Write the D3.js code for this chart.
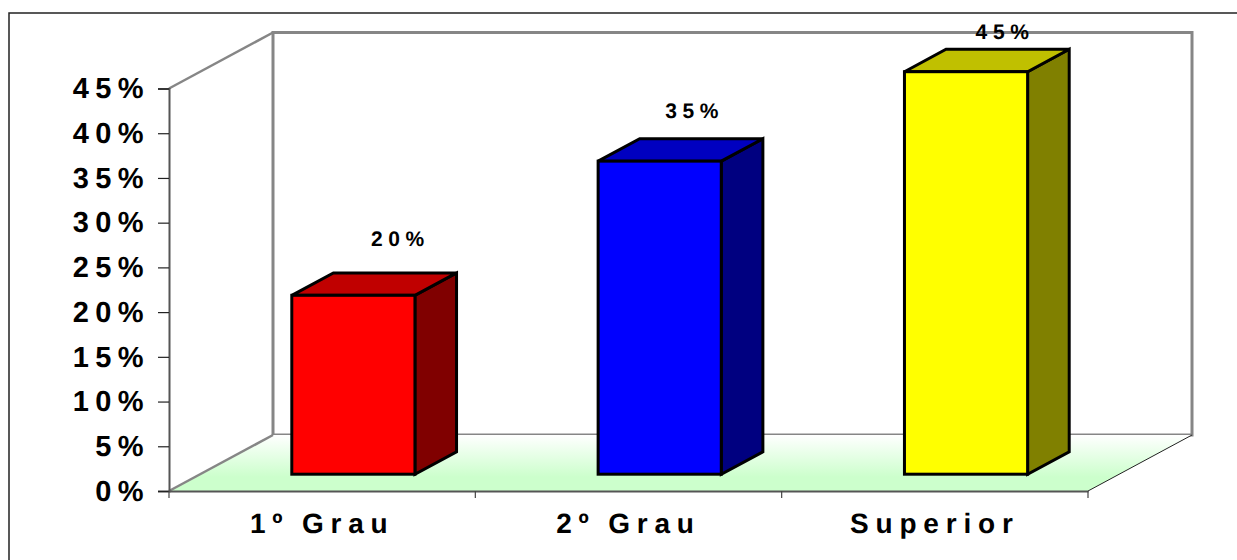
<!DOCTYPE html>
<html>
<head>
<meta charset="utf-8">
<script src="https://cdn.jsdelivr.net/npm/d3@7"></script>
<style>
  body { margin: 0; background: #fff; }
  text { font-family: "Liberation Sans", Arial, sans-serif; font-weight: bold; fill: #000; text-rendering: geometricPrecision; }
</style>
</head>
<body>
<div id="chart"></div>
<script>
const categories = ['1º Grau', '2º Grau', 'Superior'];
const values = [20, 35, 45];
const valueLabels = ['20%', '35%', '45%'];
const yTicks = [0, 5, 10, 15, 20, 25, 30, 35, 40, 45];
const frontColors = ['#ff0000', '#0000ff', '#ffff00'];
const topColors = ['#c00000', '#0000c0', '#c0c000'];
const sideColors = ['#800000', '#000080', '#808000'];

const width = 1237, height = 560;
const plot = {left: 169, right: 1088, top: 88.5, bottom: 491};
const depth = {dx: 104, dy: 56};        // wall offset of the fake 3d box
const barFront = 0.3, barDepth = 0.4;   // as a share of the box depth
const wallColor = '#868686';

const svg = d3.select('#chart').append('svg')
  .attr('width', width)
  .attr('height', height)
  .style('display', 'block');

const x = d3.scaleBand().domain(categories).range([plot.left, plot.right]).paddingInner(0);
const y = d3.scaleLinear().domain([0, 45]).range([plot.bottom, plot.top]);

// frame, only top and left show
svg.append('path')
  .attr('d', `M9,560V13H${width}`)
  .attr('fill', 'none')
  .attr('stroke', '#222')
  .attr('stroke-width', 1.5);

const defs = svg.append('defs');
const grad = defs.append('linearGradient')
  .attr('id', 'floor')
  .attr('x1', 0).attr('y1', 0).attr('x2', 0).attr('y2', 1);
grad.append('stop').attr('offset', '0%').attr('stop-color', '#ffffff');
grad.append('stop').attr('offset', '75%').attr('stop-color', '#ccffcc');
grad.append('stop').attr('offset', '100%').attr('stop-color', '#ccffcc');

// back wall
svg.append('rect')
  .attr('x', plot.left + depth.dx)
  .attr('y', plot.top - depth.dy)
  .attr('width', plot.right - plot.left)
  .attr('height', plot.bottom - plot.top)
  .attr('fill', '#fff')
  .attr('stroke', wallColor)
  .attr('stroke-width', 3);

// floor
svg.append('polygon')
  .attr('points', [
    [plot.left, plot.bottom],
    [plot.right, plot.bottom],
    [plot.right + depth.dx, plot.bottom - depth.dy],
    [plot.left + depth.dx, plot.bottom - depth.dy]
  ].join(' '))
  .attr('fill', 'url(#floor)');

svg.append('line')
  .attr('x1', plot.right).attr('y1', plot.bottom)
  .attr('x2', plot.right + depth.dx).attr('y2', plot.bottom - depth.dy)
  .attr('stroke', '#222')
  .attr('stroke-width', 1);

// side wall edges
[plot.top, plot.bottom].forEach(v => {
  svg.append('line')
    .attr('x1', plot.left).attr('y1', v)
    .attr('x2', plot.left + depth.dx).attr('y2', v - depth.dy)
    .attr('stroke', wallColor)
    .attr('stroke-width', 2.5);
});

// y axis
const yAxis = svg.append('g')
  .attr('transform', `translate(${plot.left},0)`)
  .call(d3.axisLeft(y).tickValues(yTicks).tickSize(11).tickPadding(8).tickFormat(d => d + '%'));
yAxis.select('.domain').attr('stroke', '#555').attr('stroke-width', 2);
yAxis.selectAll('.tick line').attr('stroke', '#222').attr('stroke-width', 1.2);
yAxis.selectAll('.tick text')
  .style('font-size', '29px')
  .style('font-family', '"Liberation Sans", Arial, sans-serif')
  .style('font-weight', 'bold')
  .style('letter-spacing', '6.4px')
  .attr('fill', '#000');

// x axis, ticks sit between the bands
const xAxis = svg.append('g')
  .attr('transform', `translate(0,${plot.bottom})`)
  .call(d3.axisBottom(x).tickSize(0).tickPadding(22));
xAxis.select('.domain').attr('stroke', '#555').attr('stroke-width', 2);
xAxis.selectAll('.tick text')
  .style('font-size', '28px')
  .style('font-family', '"Liberation Sans", Arial, sans-serif')
  .style('font-weight', 'bold')
  .style('letter-spacing', '6.8px')
  .style('word-spacing', '-2px')
  .attr('fill', '#000');

svg.append('g').selectAll('line')
  .data(d3.range(categories.length + 1))
  .join('line')
    .attr('x1', i => plot.left + i * x.step())
    .attr('x2', i => plot.left + i * x.step())
    .attr('y1', plot.bottom)
    .attr('y2', plot.bottom + 7)
    .attr('stroke', '#444')
    .attr('stroke-width', 1.2);

// bars
const barW = x.step() * 0.402;
const data = categories.map((c, i) => ({c, i, v: values[i]}));
const frontX0 = d => x(d.c) + x.step() / 2 + depth.dx * barFront - barW / 2;
const baseY = plot.bottom - depth.dy * barFront;
const topY = d => baseY - (y(0) - y(d.v));
const ddx = depth.dx * barDepth, ddy = depth.dy * barDepth;

const bars = svg.append('g').selectAll('g')
  .data(data)
  .join('g')
    .attr('stroke', '#000')
    .attr('stroke-width', 3)
    .attr('stroke-linejoin', 'miter');

bars.append('polygon')
  .attr('fill', d => sideColors[d.i])
  .attr('points', d => {
    const r = frontX0(d) + barW;
    return [[r, topY(d)], [r + ddx, topY(d) - ddy], [r + ddx, baseY - ddy], [r, baseY]].join(' ');
  });

bars.append('polygon')
  .attr('fill', d => topColors[d.i])
  .attr('points', d => {
    const l = frontX0(d);
    return [[l, topY(d)], [l + ddx, topY(d) - ddy], [l + barW + ddx, topY(d) - ddy], [l + barW, topY(d)]].join(' ');
  });

bars.append('rect')
  .attr('fill', d => frontColors[d.i])
  .attr('x', d => frontX0(d))
  .attr('y', d => topY(d))
  .attr('width', barW)
  .attr('height', d => baseY - topY(d));

// value labels were dragged by hand in the original, so each has its own offset
const labelLift = [49, 43, 33];
const labelShift = [47, 35, 39];
svg.append('g').selectAll('text')
  .data(data)
  .join('text')
    .attr('x', d => frontX0(d) + barW / 2 + labelShift[d.i])
    .attr('y', d => topY(d) - labelLift[d.i])
    .attr('text-anchor', 'middle')
    .style('font-size', '21px')
    .style('letter-spacing', '5.6px')
    .text(d => valueLabels[d.i]);
</script>
</body>
</html>
